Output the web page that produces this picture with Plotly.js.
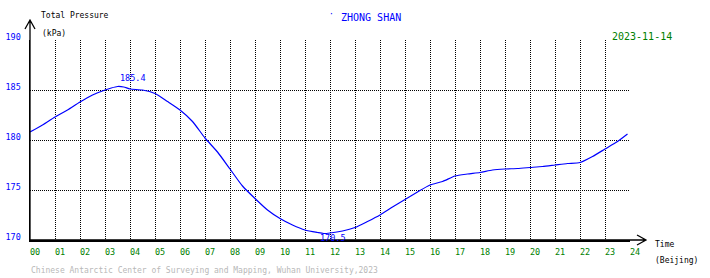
<!DOCTYPE html>
<html>
<head>
<meta charset="utf-8">
<script src="https://cdn.plot.ly/plotly-3.0.1.min.js"></script>
<style>html,body{margin:0;padding:0;background:#fff;}#chart{width:710px;height:278px;}</style>
</head>
<body>
<div id="chart"></div>
<script>
// Time in hours (Beijing)
const hours = [0,0.5,1,1.5,2,2.5,3,3.25,3.5,3.75,4,4.5,5,5.5,6,6.5,7,7.5,8,8.5,9,9.5,10,10.5,11,11.5,11.75,12,12.5,13,13.5,14,14.5,15,15.5,16,16.5,17,17.5,18,18.5,19,19.5,20,20.5,21,21.5,22,22.5,23,23.5,23.9];
// Total pressure (kPa)
const pressure = [180.8,181.5,182.3,183.0,183.8,184.5,185.0,185.2,185.35,185.3,185.1,185.0,184.65,183.85,183.0,181.85,180.2,178.8,177.1,175.4,174.15,173.0,172.15,171.5,171.0,170.75,170.65,170.7,170.9,171.25,171.85,172.5,173.3,174.05,174.8,175.5,175.85,176.4,176.6,176.75,177.0,177.1,177.15,177.25,177.35,177.5,177.65,177.75,178.35,179.1,179.85,180.6];
const xTickVals = [0,1,2,3,4,5,6,7,8,9,10,11,12,13,14,15,16,17,18,19,20,21,22,23,24];
const xTickText = ["00","01","02","03","04","05","06","07","08","09","10","11","12","13","14","15","16","17","18","19","20","21","22","23","24"];
const yTickVals = [170,175,180,185,190];
const maxLabel = "185.4", maxHour = 3.5, maxVal = 185.4;
const minLabel = "170.5", minHour = 11.5, minVal = 170.5;

const W = 710, H = 278, L = 30, R = 80, T = 40, B = 38;
const pw = W - L - R, ph = H - T - B;
const px = x => (x - L) / pw;
const py = y => (H - B - y) / ph;
const mono = "DejaVu Sans Mono, monospace";

const trace = {
  x: hours, y: pressure, type: 'scatter', mode: 'lines',
  line: {color: '#0000ff', width: 1.2, shape: 'spline', smoothing: 0.6},
  hoverinfo: 'skip'
};

const ann = (text, x, y, opts) => Object.assign({
  text: text, xref: 'paper', yref: 'paper', x: px(x), y: py(y),
  xanchor: 'left', yanchor: 'middle', showarrow: false,
  font: {family: mono, size: 8, color: '#000'}
}, opts || {});

const layout = {
  width: W, height: H,
  margin: {l: L, r: R, t: T, b: B, pad: 0},
  paper_bgcolor: '#fff', plot_bgcolor: '#fff',
  showlegend: false,
  xaxis: {
    range: [0, 24], tickvals: xTickVals, ticktext: xTickText,
    showgrid: true, gridcolor: '#000', gridwidth: 1, griddash: '1px,1px',
    showline: true, linecolor: '#000', linewidth: 1.5, zeroline: false,
    ticks: '', ticklabelshift: 5, ticklabelstandoff: 3,
    tickfont: {family: mono, size: 8.5, color: '#008000'}, fixedrange: true
  },
  yaxis: {
    range: [170, 190], tickvals: yTickVals,
    showgrid: true, gridcolor: '#000', gridwidth: 1, griddash: '1px,1px',
    showline: true, linecolor: '#000', linewidth: 1.5, zeroline: false,
    ticks: '', ticklabelstandoff: 6, ticklabelshift: -3,
    tickfont: {family: mono, size: 8.5, color: '#0000ff'}, fixedrange: true
  },
  shapes: [
    // y axis arrow
    {type: 'path', xref: 'paper', yref: 'paper',
     path: `M ${px(30)},${py(240)} L ${px(30)},${py(20)} M ${px(25)},${py(29)} L ${px(30)},${py(20)} L ${px(35)},${py(29)}`,
     line: {color: '#000', width: 1.3}},
    // x axis arrow
    {type: 'path', xref: 'paper', yref: 'paper',
     path: `M ${px(30)},${py(240)} L ${px(646)},${py(240)} M ${px(637)},${py(235)} L ${px(646)},${py(240)} L ${px(637)},${py(245)}`,
     line: {color: '#000', width: 1.3}}
  ],
  annotations: [
    ann('Total Pressure', 39, 16),
    ann('(kPa)', 40, 34),
    ann('ZHONG SHAN', 339, 17, {font: {family: mono, size: 10, color: '#0000ff'}}),
    ann('·', 327, 14, {font: {family: mono, size: 8, color: '#0000ff'}}),
    ann('2023-11-14', 611, 36, {bgcolor: '#fff', borderpad: 0, font: {family: mono, size: 10, color: '#008000'}}),
    ann('Time', 653, 244),
    ann('(Beijing)', 653, 260),
    ann('Chinese Antarctic Center of Surveying and Mapping, Wuhan University,2023', 29, 270,
        {font: {family: mono, size: 8, color: '#b8b8b8'}}),
    {text: maxLabel, xref: 'x', yref: 'y', x: maxHour, y: maxVal, yshift: 8, xanchor: 'left', yanchor: 'middle',
     showarrow: false, font: {family: mono, size: 8.5, color: '#0000ff'}},
    {text: minLabel, xref: 'x', yref: 'y', x: minHour, y: minVal, yshift: -3, xanchor: 'left', yanchor: 'middle',
     showarrow: false, font: {family: mono, size: 8.5, color: '#0000ff'}}
  ]
};

Plotly.newPlot('chart', [trace], layout, {staticPlot: true, displayModeBar: false});
</script>
</body>
</html>
